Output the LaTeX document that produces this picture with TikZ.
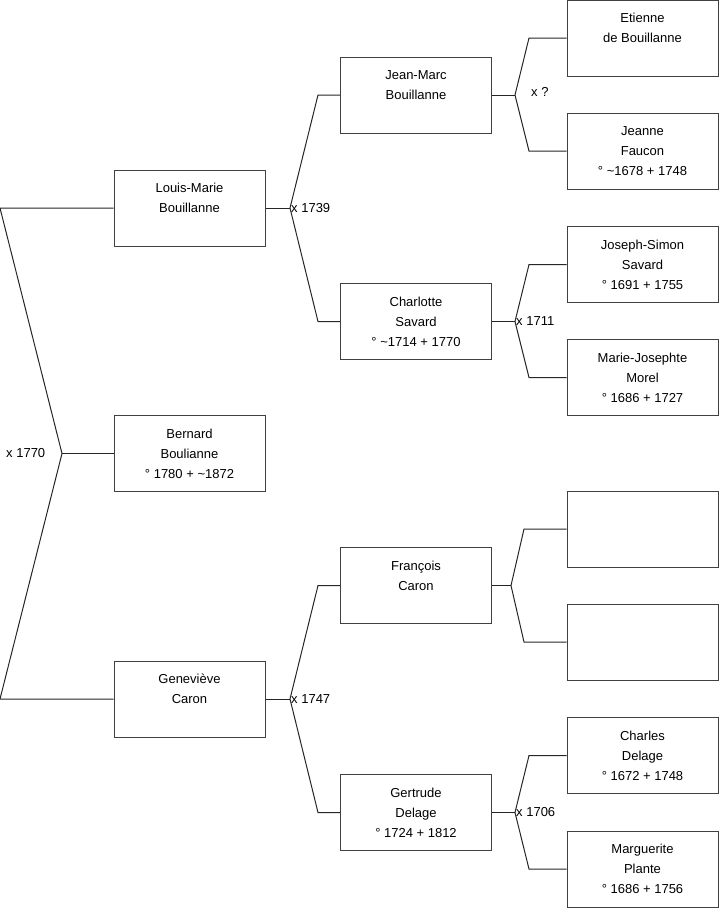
\documentclass[tikz,border=0pt]{standalone}
\usepackage{fontspec}
\setmainfont{Liberation Sans}
\usetikzlibrary{positioning}

\begin{document}
\begin{tikzpicture}[
    x=1pt, y=-1pt,
    person/.style={rectangle, draw=black!75, line width=1pt, minimum width=151pt, minimum height=76pt, inner sep=0pt, align=center, font=\fontsize{13}{20}\selectfont},
    link/.style={draw=black!85, line width=1pt},
    marriage/.style={inner sep=1pt, anchor=west, font=\fontsize{13}{15}\selectfont}
]
\useasboundingbox (0,0) rectangle (719,908);

% Subject
\node[person] (bernard) at (189.5,453.5) {Bernard\\Boulianne\\° 1780 + \textasciitilde1872};

% Parents
\node[person] (lm) at (189.5,208) {Louis-Marie\\Bouillanne\\\mbox{}};
\node[person] (gen) at (189.5,699) {Geneviève\\Caron\\\mbox{}};

% Grandparents
\node[person] (jm) at (416,95) {Jean-Marc\\Bouillanne\\\mbox{}};
\node[person] (charlotte) at (416,321.5) {Charlotte\\Savard\\° \textasciitilde1714 + 1770};
\node[person] (francois) at (416,585.5) {François\\Caron\\\mbox{}};
\node[person] (gertrude) at (416,812.5) {Gertrude\\Delage\\° 1724 + 1812};

% Great-grandparents
\node[person] (etienne) at (642.5,38) {Etienne\\de Bouillanne\\\mbox{}};
\node[person] (jeanne) at (642.5,151) {Jeanne\\Faucon\\° \textasciitilde1678 + 1748};
\node[person] (josephsimon) at (642.5,264.5) {Joseph-Simon\\Savard\\° 1691 + 1755};
\node[person] (mariejos) at (642.5,377.5) {Marie-Josephte\\Morel\\° 1686 + 1727};
\node[person] (unknownA) at (642.5,529) {};
\node[person] (unknownB) at (642.5,642) {};
\node[person] (charles) at (642.5,755.5) {Charles\\Delage\\° 1672 + 1748};
\node[person] (marguerite) at (642.5,869) {Marguerite\\Plante\\° 1686 + 1756};

% Fork points
\coordinate (f0) at (62,453.5);
\coordinate (f0a) at (0,208);
\coordinate (f0b) at (0,699);
\coordinate (f1) at (290,208);
\coordinate (f1a) at (318,95);
\coordinate (f1b) at (318,321.5);
\coordinate (f2) at (290,699);
\coordinate (f2a) at (318,585.5);
\coordinate (f2b) at (318,812.5);
\coordinate (f3) at (515,95);
\coordinate (f3a) at (529,38);
\coordinate (f3b) at (529,151);
\coordinate (f4) at (515,321.5);
\coordinate (f4a) at (529,264.5);
\coordinate (f4b) at (529,377.5);
\coordinate (f5) at (511,585.5);
\coordinate (f5a) at (524,529);
\coordinate (f5b) at (524,642);
\coordinate (f6) at (515,812.5);
\coordinate (f6a) at (529,755.5);
\coordinate (f6b) at (529,869);

% Connectors
\draw[link] (lm.west) -- (f0a) -- (f0) -- (f0b) -- (gen.west);
\draw[link] (f0) -- (bernard.west);
\draw[link] (lm.east) -- (f1);
\draw[link] (jm.west) -- (f1a) -- (f1) -- (f1b) -- (charlotte.west);
\draw[link] (gen.east) -- (f2);
\draw[link] (francois.west) -- (f2a) -- (f2) -- (f2b) -- (gertrude.west);
\draw[link] (jm.east) -- (f3);
\draw[link] (etienne.west) -- (f3a) -- (f3) -- (f3b) -- (jeanne.west);
\draw[link] (charlotte.east) -- (f4);
\draw[link] (josephsimon.west) -- (f4a) -- (f4) -- (f4b) -- (mariejos.west);
\draw[link] (francois.east) -- (f5);
\draw[link] (unknownA.west) -- (f5a) -- (f5) -- (f5b) -- (unknownB.west);
\draw[link] (gertrude.east) -- (f6);
\draw[link] (charles.west) -- (f6a) -- (f6) -- (f6b) -- (marguerite.west);

% Marriages
\node[marriage] (m0) at (5,453.5) {x 1770};
\node[marriage] (m1) at (f1) {x 1739};
\node[marriage] (m2) at (f2) {x 1747};
\node[marriage] (m3) at (530,92) {x ?};
\node[marriage] (m4) at (f4) {x 1711};
\node[marriage] (m6) at (f6) {x 1706};
\end{tikzpicture}
\end{document}
